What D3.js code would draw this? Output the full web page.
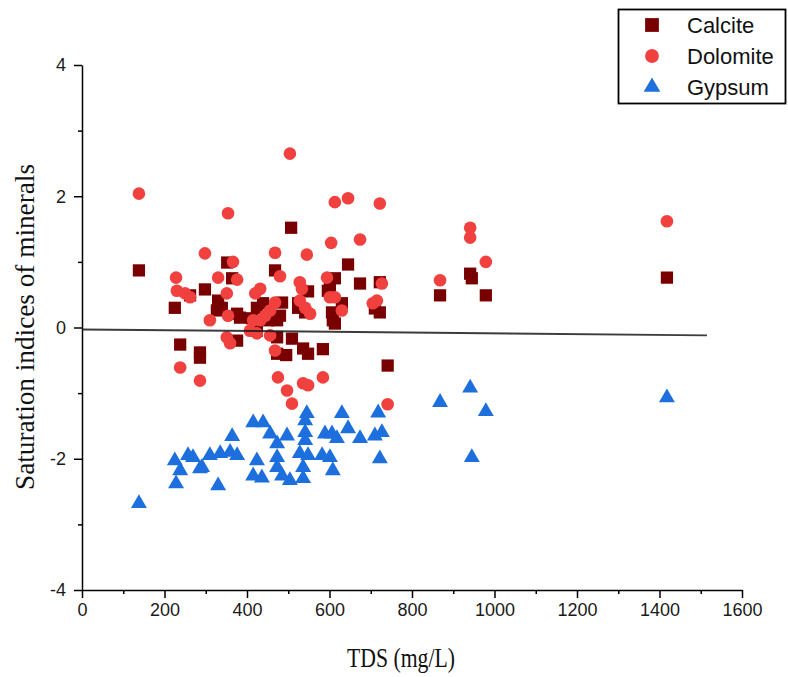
<!DOCTYPE html>
<html>
<head>
<meta charset="utf-8">
<script src="https://cdn.jsdelivr.net/npm/d3@7"></script>
<style>
  html, body { margin: 0; padding: 0; background: #fff; }
  svg { display: block; }
</style>
</head>
<body>
<svg id="chart" width="788" height="677"></svg>
<script>
// Saturation indices of calcite, dolomite and gypsum against TDS (mg/L)
const calciteTDS = [138, 225, 238, 262, 286, 286, 298, 327, 330, 339, 352, 364, 376, 383, 376, 412, 424, 439, 424, 451, 468, 473, 480, 485, 473, 473, 495, 507, 509, 524, 524, 541, 548, 536, 548, 584, 596, 601, 606, 608, 613, 613, 630, 645, 674, 710, 722, 722, 741, 868, 941, 945, 979, 1418];
const calciteSI  = [0.87, 0.30, -0.26, 0.49, -0.38, -0.46, 0.58, 0.26, 0.41, 0.30, 0.99, 0.75, 0.21, 0.15, -0.20, 0.14, 0.30, 0.37, -0.05, 0.11, 0.87, 0.11, 0.18, 0.38, -0.15, -0.40, -0.42, 1.52, -0.17, 0.30, 0.37, 0.23, 0.55, -0.32, -0.40, -0.33, 0.56, 0.64, 0.23, 0.11, 0.06, 0.75, 0.37, 0.96, 0.67, 0.29, 0.23, 0.69, -0.58, 0.49, 0.82, 0.75, 0.49, 0.76];

const dolomiteTDS = [138, 228, 230, 250, 262, 238, 286, 298, 310, 330, 351, 354, 354, 351, 359, 366, 376, 407, 415, 424, 420, 432, 432, 444, 456, 456, 468, 468, 468, 475, 480, 497, 504, 509, 528, 533, 528, 541, 553, 545, 536, 548, 584, 594, 604, 601, 613, 613, 630, 645, 674, 705, 715, 722, 727, 741, 868, 941, 941, 979, 1418];
const dolomiteSI  = [2.04, 0.76, 0.56, 0.52, 0.46, -0.61, -0.81, 1.13, 0.11, 0.76, 0.52, 1.74, 0.18, -0.15, -0.24, 1.00, 0.73, -0.05, 0.11, -0.09, 0.52, 0.59, 0.11, 0.18, 0.26, -0.12, 0.38, 1.14, -0.35, -0.76, 0.78, -0.96, 2.65, -1.16, 0.69, 0.59, 0.41, 0.30, 0.21, 1.11, -0.85, -0.88, -0.76, 0.76, 1.29, 0.46, 1.91, 0.46, 0.26, 1.97, 1.34, 0.37, 0.41, 1.89, 0.67, -1.17, 0.72, 1.52, 1.37, 1.00, 1.62];

const gypsumTDS = [138, 228, 238, 225, 257, 269, 286, 291, 310, 335, 359, 376, 330, 364, 415, 439, 424, 415, 436, 456, 473, 473, 473, 485, 504, 497, 536, 536, 528, 541, 541, 541, 548, 545, 589, 606, 618, 582, 601, 608, 630, 645, 674, 718, 727, 710, 722, 868, 941, 945, 979, 1418];
const gypsumSI  = [-2.68, -2.38, -2.18, -2.03, -1.95, -1.98, -2.15, -2.13, -1.95, -1.92, -1.90, -1.95, -2.41, -1.66, -1.45, -1.45, -2.03, -2.26, -2.29, -1.62, -1.77, -1.98, -2.13, -2.26, -2.33, -1.65, -2.30, -2.13, -1.92, -1.42, -1.60, -1.72, -1.95, -1.31, -1.62, -1.62, -1.69, -1.95, -1.98, -2.18, -1.31, -1.54, -1.69, -1.30, -1.60, -1.65, -2.00, -1.14, -0.92, -1.98, -1.28, -1.07];

// fitted reference line
const lineTDS = [0, 1515];
const lineSI  = [-0.03, -0.12];

const xMajor = [0, 200, 400, 600, 800, 1000, 1200, 1400, 1600];
const xMinor = [100, 300, 500, 700, 900, 1100, 1300, 1500];
const yMajor = [-4, -2, 0, 2, 4];
const yMinor = [-3, -1, 1, 3];

const seriesNames = ["Calcite", "Dolomite", "Gypsum"];
const seriesColors = {Calcite: "#780000", Dolomite: "#f0413f", Gypsum: "#1c6fdc"};

const svg = d3.select("#chart");
const x = d3.scaleLinear().domain([0, 1600]).range([82, 742]);
const y = d3.scaleLinear().domain([-4, 4]).range([590, 65]);

const tickFont = "Liberation Sans, Arial, sans-serif";
const titleFont = "Liberation Serif, 'Times New Roman', serif";
const plain = d => String(d);

// x axis
const gx = svg.append("g").attr("transform", `translate(0,${y(-4)})`);
gx.call(d3.axisBottom(x).tickValues(xMajor).tickSize(8).tickSizeOuter(0).tickPadding(5).tickFormat(plain));
gx.append("g").call(d3.axisBottom(x).tickValues(xMinor).tickSize(4).tickFormat(""))
  .select(".domain").remove();

// y axis
const gy = svg.append("g").attr("transform", `translate(${x(0)},0)`);
gy.call(d3.axisLeft(y).tickValues(yMajor).tickSize(8).tickSizeOuter(0).tickPadding(8).tickFormat(plain));
gy.append("g").call(d3.axisLeft(y).tickValues(yMinor).tickSize(4).tickFormat(""))
  .select(".domain").remove();

svg.selectAll(".domain, .tick line").attr("stroke", "#000").attr("stroke-width", 1.5);
svg.selectAll(".tick text").attr("font-family", tickFont).attr("font-size", 18).attr("fill", "#1a1a1a");

// axis titles
svg.append("text")
  .attr("x", 401).attr("y", 667)
  .attr("text-anchor", "middle")
  .attr("font-family", titleFont).attr("font-size", 28)
  .attr("textLength", 108).attr("lengthAdjust", "spacingAndGlyphs")
  .attr("fill", "#111")
  .text("TDS (mg/L)");

svg.append("text")
  .attr("transform", `translate(34,327) rotate(-90)`)
  .attr("text-anchor", "middle")
  .attr("font-family", titleFont).attr("font-size", 28)
  .attr("textLength", 326).attr("lengthAdjust", "spacingAndGlyphs")
  .attr("fill", "#111")
  .text("Saturation indices of minerals");

// markers
const sym = {
  Calcite: d3.symbol().type(d3.symbolSquare).size(150),
  Dolomite: d3.symbol().type(d3.symbolCircle).size(125),
  Gypsum: d3.symbol().type(d3.symbolTriangle).size(110)
};

function drawSeries(name, xs, ys) {
  const pts = xs.map((v, i) => ({tds: v, si: ys[i]}));
  svg.append("g").attr("class", name)
    .selectAll("path").data(pts).join("path")
    .attr("d", sym[name]())
    .attr("transform", d => `translate(${x(d.tds)},${y(d.si)})`)
    .attr("fill", seriesColors[name]);
}
drawSeries("Calcite", calciteTDS, calciteSI);
drawSeries("Gypsum", gypsumTDS, gypsumSI);
drawSeries("Dolomite", dolomiteTDS, dolomiteSI);

// reference line
svg.append("line")
  .attr("x1", x(lineTDS[0])).attr("y1", y(lineSI[0]))
  .attr("x2", x(lineTDS[1])).attr("y2", y(lineSI[1]))
  .attr("stroke", "#1a1a1a").attr("stroke-width", 2).attr("stroke-opacity", 0.85);

// legend
const lg = svg.append("g");
lg.append("rect").attr("x", 618.5).attr("y", 9.5).attr("width", 167).attr("height", 94)
  .attr("fill", "#fff").attr("stroke", "#000").attr("stroke-width", 1.8);
const legendSym = {
  Calcite: d3.symbol().type(d3.symbolSquare).size(190),
  Dolomite: d3.symbol().type(d3.symbolCircle).size(150),
  Gypsum: d3.symbol().type(d3.symbolTriangle).size(120)
};
seriesNames.forEach((name, i) => {
  const cy = 25 + i * 31;
  lg.append("path").attr("d", legendSym[name]())
    .attr("transform", `translate(652,${cy})`).attr("fill", seriesColors[name]);
  lg.append("text").attr("x", 687).attr("y", cy + 8)
    .attr("font-family", tickFont).attr("font-size", 22).attr("fill", "#111")
    .text(name);
});
</script>
</body>
</html>
